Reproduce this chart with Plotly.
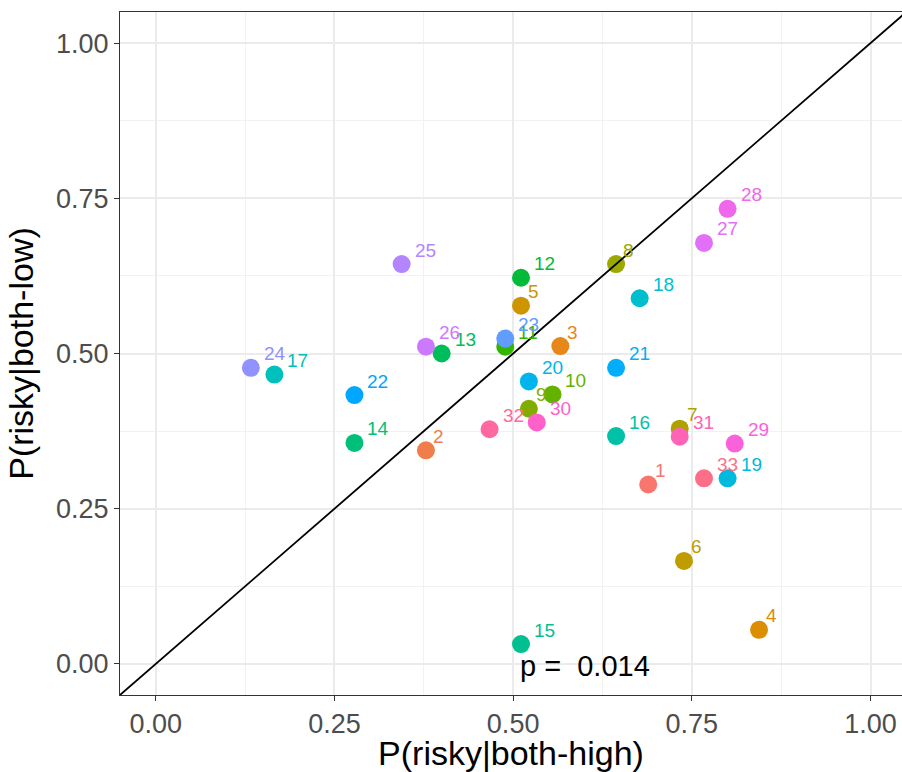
import math
import plotly.graph_objects as go

# ---- data ----
ids = [str(i) for i in range(1, 34)]
p_high = [0.689, 0.378, 0.566, 0.844, 0.511, 0.739, 0.733, 0.644, 0.522, 0.555,
          0.489, 0.511, 0.400, 0.278, 0.511, 0.644, 0.166, 0.677, 0.800, 0.522,
          0.644, 0.278, 0.489, 0.133, 0.344, 0.378, 0.767, 0.800, 0.810, 0.533,
          0.733, 0.467, 0.767]
p_low = [0.289, 0.344, 0.512, 0.055, 0.577, 0.166, 0.379, 0.644, 0.411, 0.434,
         0.511, 0.622, 0.500, 0.356, 0.032, 0.367, 0.466, 0.589, 0.299, 0.455,
         0.477, 0.433, 0.524, 0.477, 0.644, 0.511, 0.678, 0.733, 0.355, 0.389,
         0.366, 0.378, 0.299]
p_label = "p =  0.014"
x_ticks = [0.0, 0.25, 0.5, 0.75, 1.0]
y_ticks = [0.0, 0.25, 0.5, 0.75, 1.0]
tick_text = ["0.00", "0.25", "0.50", "0.75", "1.00"]


def hcl_hex(h, c=100.0, l=65.0):
    hr = math.radians(h)
    U, V = c * math.cos(hr), c * math.sin(hr)
    Xn, Yn, Zn = 95.047, 100.0, 108.883
    Y = Yn * ((l + 16) / 116) ** 3 if l > 8 else Yn * l / 903.3
    den = Xn + 15 * Yn + 3 * Zn
    un, vn = 4 * Xn / den, 9 * Yn / den
    u = U / (13 * l) + un
    v = V / (13 * l) + vn
    X = 9.0 * Y * u / (4 * v)
    Z = -X / 3 - 5 * Y + 3 * Y / v
    X, Y, Z = X / 100, Y / 100, Z / 100
    r = 3.240479 * X - 1.537150 * Y - 0.498535 * Z
    g = -0.969256 * X + 1.875992 * Y + 0.041556 * Z
    b = 0.055648 * X - 0.204043 * Y + 1.057311 * Z

    def gam(t):
        t = 12.92 * t if t <= 0.0031308 else 1.055 * t ** (1 / 2.4) - 0.055
        return max(0, min(255, round(255 * t)))
    return "#%02X%02X%02X" % (gam(r), gam(g), gam(b))


n = len(ids)
colors = [hcl_hex(15 + 360 / n * i) for i in range(n)]

FONT = "Liberation Sans, Arial, Helvetica, sans-serif"
XR = [-0.05, 1.044]
YR = [-0.05, 1.05]

fig = go.Figure()
fig.add_trace(go.Scatter(
    x=p_high, y=p_low, mode="markers",
    marker=dict(size=18, color=colors, line=dict(width=0)),
    showlegend=False, hoverinfo="x+y+text", text=ids, cliponaxis=False,
))

annotations = []
for xi, yi, lab, col in zip(p_high, p_low, ids, colors):
    annotations.append(dict(
        x=xi, y=yi, xref="x", yref="y", text=lab, showarrow=False,
        xanchor="left", yanchor="middle", xshift=6 * len(lab) - 1, yshift=14,
        font=dict(family=FONT, size=19, color=col),
    ))
annotations.append(dict(
    x=0.6, y=0.0, xref="x", yref="y", text=p_label, showarrow=False,
    xanchor="center", yanchor="middle", yshift=-2,
    font=dict(family=FONT, size=29, color="black"),
))

fig.update_layout(
    width=902, height=772,
    margin=dict(l=120, r=0, t=12, b=77, autoexpand=False),
    paper_bgcolor="white", plot_bgcolor="white",
    annotations=annotations,
    shapes=[dict(type="line", xref="x", yref="y", x0=YR[0], y0=YR[0], x1=YR[1], y1=YR[1],
                 line=dict(color="black", width=1.8), layer="above")],
    font=dict(family=FONT),
)
axis_common = dict(
    tickfont=dict(family=FONT, size=27, color="#4D4D4D"),
    ticks="outside", ticklen=5, tickwidth=1, tickcolor="#333333",
    showgrid=True, gridcolor="#EBEBEB", gridwidth=2,
    zeroline=False, showline=True, linecolor="#333333", linewidth=1,
    minor=dict(showgrid=True, gridcolor="#F2F2F2", gridwidth=1, dtick=0.125, ticks=""),
    tickmode="array", ticktext=tick_text, automargin=False,
)
fig.update_xaxes(range=XR, tickvals=x_ticks, mirror=True,
                 title=dict(text="P(risky|both-high)", font=dict(family=FONT, size=34, color="black"), standoff=4),
                 **axis_common)
fig.update_yaxes(range=YR, tickvals=y_ticks, mirror=False,
                 title=dict(text="P(risky|both-low)", font=dict(family=FONT, size=34, color="black"), standoff=12),
                 **axis_common)

# remove the page's default body margin so the 902x772 figure fills the window exactly
fig.write_html("out.html",
               config={"displayModeBar": False},
               post_script="document.body.style.margin='0';document.body.style.overflow='hidden';")
